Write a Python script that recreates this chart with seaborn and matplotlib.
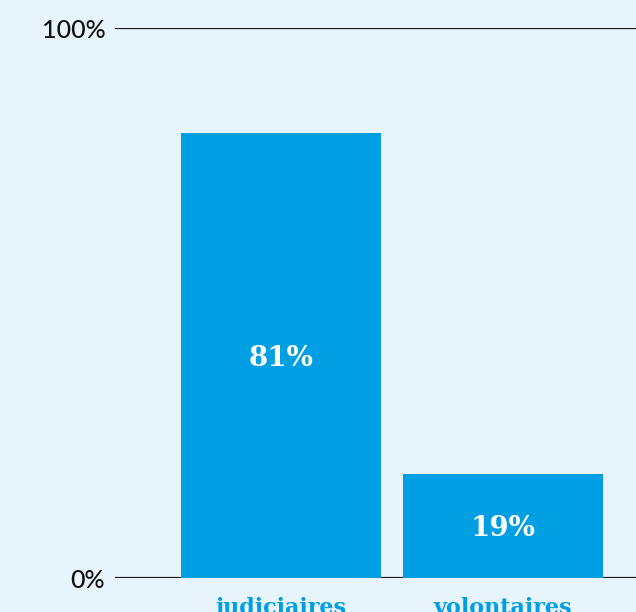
import matplotlib
matplotlib.use("Agg")
import matplotlib.pyplot as plt
import seaborn as sns
import pandas as pd

# data
categories = ["judiciaires", "volontaires"]
values = [81, 19]
value_labels = ["81%", "19%"]
ytick_values = [0, 100]
ytick_labels = ["0%", "100%"]

bg = "#e8f4fc"
blue = "#009fe3"

df = pd.DataFrame({"cat": categories, "val": values})

sns.set_theme(style="white")
fig = plt.figure(figsize=(6.36, 6.12), dpi=100, facecolor=bg)
ax = fig.add_axes([115 / 636, 34 / 612, 521 / 636, 550 / 612])
ax.set_facecolor(bg)

sns.barplot(data=df, x="cat", y="val", color=blue, saturation=1, width=0.9,
            linewidth=0, ax=ax, zorder=3)

for y in ytick_values:
    ax.axhline(y, color="#1a1a1a", lw=1.6, zorder=1)

for i, (v, lab) in enumerate(zip(values, value_labels)):
    ax.text(i, v / 2 - 0.5, lab, ha="center", va="center", color="white",
            fontsize=20, fontweight="bold", family="DejaVu Serif", zorder=4)

ax.set_xlim(-0.748, 1.599)
ax.set_ylim(0, 100)
ax.set_yticks(ytick_values)
ax.set_yticklabels(ytick_labels, fontsize=18, fontweight="medium", family="Lato", color="#111111")
ax.tick_params(axis="y", length=0, pad=7)
ax.tick_params(axis="x", length=0, pad=14)
ax.set_xticks(range(len(categories)))
ax.set_xticklabels(categories, fontsize=16, fontweight="bold", family="DejaVu Serif", color=blue)
ax.set_xlabel("")
ax.set_ylabel("")
for s in ax.spines.values():
    s.set_visible(False)

fig.savefig("out.png", dpi=100, facecolor=bg)
